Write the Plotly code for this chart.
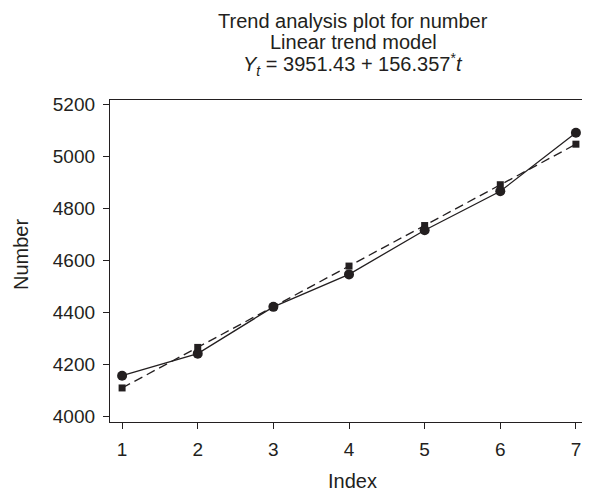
import plotly.graph_objects as go

index = [1, 2, 3, 4, 5, 6, 7]
actual = [4155, 4240, 4420, 4545, 4715, 4865, 5090]
fitted = [4108, 4264, 4420, 4577, 4733, 4890, 5046]
y_ticks = [4000, 4200, 4400, 4600, 4800, 5000, 5200]
title_lines = ["Trend analysis plot for number", "Linear trend model",
               "<i>Y</i><sub><i>t</i></sub> = 3951.43 + 156.357<sup>*</sup><i>t</i>"]

ink = "#231f20"
font = "Liberation Sans, Arial, sans-serif"

# page body has an 8px margin; figure coordinates are viewport minus 8
W, H = 582, 487
L, R, T, B = 102, 5, 92, 73
plot_w = W - L - R
plot_h = H - T - B

def py(fy):
    return (H - B - fy) / plot_h

def px(fx):
    return (fx - L) / plot_w

fig = go.Figure()
fig.add_trace(go.Scatter(
    x=index, y=fitted, mode="lines+markers",
    line=dict(color=ink, width=1.3, dash="9px,5px"),
    marker=dict(symbol="square", size=7, color=ink),
    showlegend=False, hoverinfo="skip"))
fig.add_trace(go.Scatter(
    x=index, y=actual, mode="lines+markers",
    line=dict(color=ink, width=1.3),
    marker=dict(symbol="circle", size=10, color=ink),
    showlegend=False, hoverinfo="skip"))

annotations = []
for text, fy in zip(title_lines, [13, 34, 56]):
    annotations.append(dict(
        text=text, xref="paper", yref="paper", x=px(345), y=py(fy),
        xanchor="center", yanchor="middle", showarrow=False, borderpad=0,
        font=dict(family=font, size=20, color=ink)))
annotations.append(dict(
    text="Index", xref="paper", yref="paper", x=px(344), y=py(473),
    xanchor="center", yanchor="middle", showarrow=False,
    font=dict(family=font, size=20, color=ink)))
annotations.append(dict(
    text="Number", xref="paper", yref="paper", x=px(13), y=py(247),
    xanchor="center", yanchor="middle", showarrow=False, textangle=-90,
    font=dict(family=font, size=20, color=ink)))

fig.update_layout(
    width=W, height=H,
    margin=dict(l=L, r=R, t=T, b=B),
    paper_bgcolor="white", plot_bgcolor="white",
    font=dict(family=font, size=19, color=ink),
    annotations=annotations,
    xaxis=dict(
        range=[0.84, 7.12], tickvals=index, ticks="outside", ticklen=6,
        tickcolor=ink, showline=True, linecolor=ink, linewidth=1.3,
        mirror=True, showgrid=False, zeroline=False,
        ticklabelstandoff=4, tickfont=dict(size=19)),
    yaxis=dict(
        range=[3977, 5216], tickvals=y_ticks, ticks="outside", ticklen=6,
        tickcolor=ink, showline=True, linecolor=ink, linewidth=1.3,
        mirror=True, showgrid=False, zeroline=False,
        ticklabelstandoff=4, tickfont=dict(size=19)),
)

fig.write_html("out.html")
